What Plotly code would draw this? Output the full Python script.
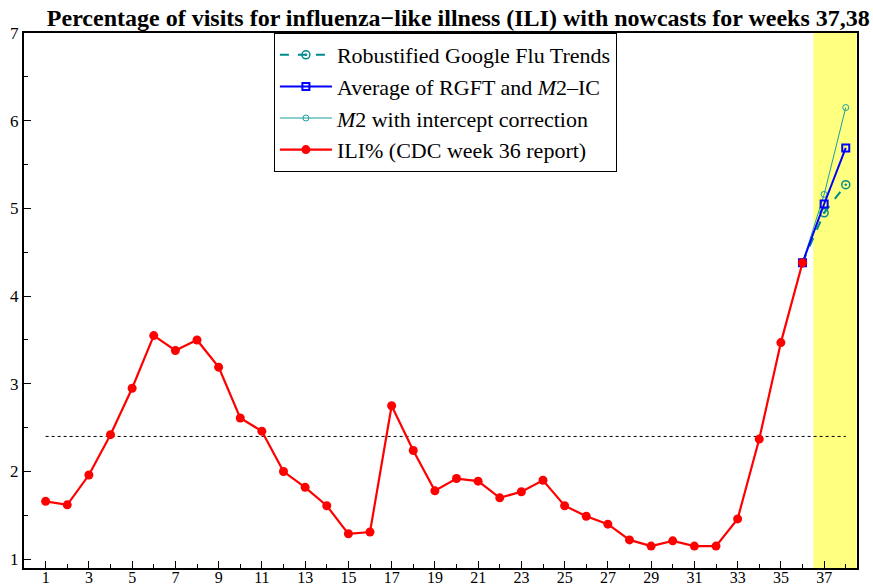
import plotly.graph_objects as go

# Weekly ILI percentages (CDC week 36 report)
weeks = list(range(1, 37))
ili = [1.66, 1.62, 1.96, 2.42, 2.95, 3.55, 3.38, 3.50, 3.19, 2.61,
       2.46, 2.00, 1.82, 1.61, 1.29, 1.31, 2.75, 2.24, 1.78, 1.92,
       1.89, 1.70, 1.77, 1.90, 1.61, 1.49, 1.40, 1.22, 1.15, 1.21,
       1.15, 1.15, 1.46, 2.37, 3.47, 4.38]

# Nowcasts for weeks 37 and 38, anchored at week 36
nowcast_weeks = [36, 37, 38]
rgft = [4.38, 4.95, 5.27]
average = [4.38, 5.05, 5.69]
m2_ic = [4.38, 5.16, 6.15]

baseline = 2.40
baseline_weeks = [1, 38]

teal = "#008B8B"
teal_light = "#1A9E9E"
serif = "Liberation Serif, Times New Roman, serif"

fig = go.Figure()

fig.add_shape(type="rect", xref="x", yref="paper", x0=36.5, x1=38.5, y0=0, y1=1,
              fillcolor="#FFFF80", line_width=0, layer="below")

fig.add_trace(go.Scatter(x=baseline_weeks, y=[baseline, baseline], mode="lines",
                         line=dict(color="black", width=1, dash="dot"),
                         showlegend=False, hoverinfo="skip"))

fig.add_trace(go.Scatter(x=nowcast_weeks, y=m2_ic, mode="lines+markers",
                         name="<i>M</i>2 with intercept correction", legendrank=3,
                         line=dict(color=teal_light, width=1),
                         marker=dict(symbol="circle-open", size=6, color=teal_light,
                                     line=dict(width=1))))
fig.add_trace(go.Scatter(x=nowcast_weeks, y=rgft, mode="lines+markers",
                         name="Robustified Google Flu Trends", legendrank=1,
                         line=dict(color=teal, width=2, dash="dash"),
                         marker=dict(symbol="circle-open-dot", size=8, color=teal,
                                     line=dict(width=1.5))))
fig.add_trace(go.Scatter(x=nowcast_weeks, y=average, mode="lines+markers",
                         name="Average of RGFT and <i>M</i>2–IC", legendrank=2,
                         line=dict(color="#0000FF", width=2),
                         marker=dict(symbol="square-open", size=7, color="#0000FF",
                                     line=dict(width=2))))
fig.add_trace(go.Scatter(x=weeks, y=ili, mode="lines+markers",
                         name="ILI% (CDC week 36 report)", legendrank=4,
                         line=dict(color="#FF0000", width=2.2),
                         marker=dict(symbol="circle", size=9, color="#FF0000")))

fig.update_layout(
    width=873, height=588,
    margin=dict(l=24, r=16, t=33, b=20),
    paper_bgcolor="white", plot_bgcolor="white",
    font=dict(family=serif, size=16, color="black"),
    title=dict(text="<b>Percentage of visits for influenza−like illness (ILI) with nowcasts for weeks 37,38</b>",
               x=0.525, xref="container", xanchor="center",
               y=0.985, yref="container", yanchor="top",
               font=dict(family=serif, size=24, color="black")),
    legend=dict(x=0.30, y=1, xanchor="left", yanchor="top",
                bordercolor="black", borderwidth=1, bgcolor="white",
                font=dict(family=serif, size=22), itemwidth=52,
                tracegroupgap=0),
    showlegend=True,
)

fig.update_xaxes(range=[0, 38.52], tick0=1, dtick=2, ticks="inside", ticklen=7,
                 tickwidth=1, tickcolor="black", showgrid=False, zeroline=False,
                 showline=True, linecolor="black", linewidth=2, mirror=True,
                 automargin=False, ticklabelstandoff=-6,
                 minor=dict(ticks="inside", ticklen=4, dtick=1, tick0=0, tickcolor="black"),
                 tickfont=dict(family=serif, size=16))
fig.update_yaxes(range=[0.9, 7], tick0=1, dtick=1, ticks="inside", ticklen=7,
                 tickwidth=1, tickcolor="black", showgrid=False, zeroline=False,
                 showline=True, linecolor="black", linewidth=2, mirror=True,
                 automargin=False,
                 minor=dict(ticks="inside", ticklen=4, dtick=0.5, tickcolor="black"),
                 tickfont=dict(family=serif, size=17))

fig.write_html("out.html")
